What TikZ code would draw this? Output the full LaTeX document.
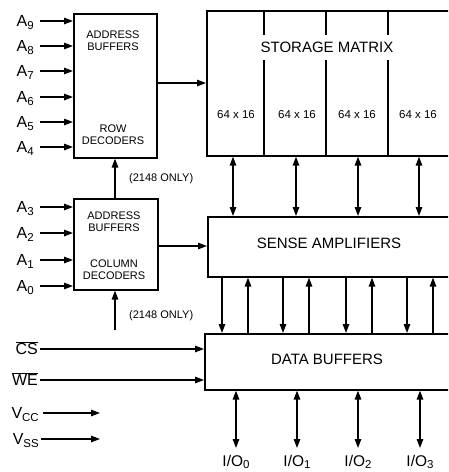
\documentclass[tikz,border=0pt]{standalone}
\usepackage{fontspec}
\setmainfont{Liberation Sans}
\usetikzlibrary{arrows.meta}
\newcommand{\sbs}[1]{\raisebox{-0.4ex}{\fontsize{11.5}{11.5}\selectfont #1}}
\newcommand{\iosb}[1]{\raisebox{-0.3ex}{\fontsize{11.5}{11.5}\selectfont #1}}
\tikzset{
  blk/.style={draw, line width=1.6pt, inner sep=0pt, anchor=north west},
  arr/.style={line width=1.3pt, -{Triangle[length=9pt,width=6.5pt]}},
  darr/.style={line width=1.3pt, {Triangle[length=9pt,width=6.5pt]}-{Triangle[length=9pt,width=6.5pt]}},
  pin/.style={font=\fontsize{16}{16}\selectfont, inner sep=0pt, text height=11pt, text depth=0pt, anchor=east},
  iolbl/.style={font=\fontsize{15.5}{16}\selectfont, inner sep=0pt, text height=11pt, text depth=0pt, anchor=north},
  small/.style={font=\fontsize{11}{12}\selectfont, align=center, inner sep=0pt},
  big/.style={font=\fontsize{15}{16}\selectfont, inner sep=0pt},
  cell/.style={font=\fontsize{11.5}{12}\selectfont, inner sep=0pt},
}
\begin{document}
\begin{tikzpicture}[x=1pt,y=-1pt]
\useasboundingbox (0,0) rectangle (448,472);
\clip (0,0) rectangle (448,472);
% blocks
\node[blk, minimum width=83pt, minimum height=144pt] (rowdec) at (73,13) {};
\node[blk, minimum width=84pt, minimum height=91pt] (coldec) at (73,198) {};
\node[blk, minimum width=280pt, minimum height=145pt] (mat) at (206,10) {};
\node[blk, minimum width=280pt, minimum height=60pt] (sa) at (207,216) {};
\node[blk, minimum width=280pt, minimum height=56pt] (db) at (204,333) {};
% block texts
\node[small] (t1) at (113,41) {ADDRESS\\BUFFERS};
\node[small] (t2) at (113,135) {ROW\\DECODERS};
\node[small] (t3) at (114,222) {ADDRESS\\BUFFERS};
\node[small] (t4) at (114,270) {COLUMN\\DECODERS};
\node[big] (tm) at (327,47) {STORAGE MATRIX};
\node[big] (ts) at (329,243) {SENSE AMPLIFIERS};
\node[big] (td) at (327,359) {DATA BUFFERS};
\node[cell] (m1) at (236,115) {64 x 16};
\node[cell] (m2) at (297,115) {64 x 16};
\node[cell] (m3) at (357,115) {64 x 16};
\node[cell] (m4) at (418,115) {64 x 16};
% matrix dividers
\foreach \x in {264,326,388}{
  \draw[line width=1.6pt] (\x,10) -- (\x,35);
  \draw[line width=1.6pt] (\x,60) -- (\x,155);
}
% address inputs row
\foreach \n/\y in {9/21,8/46,7/71,6/97,5/122,4/147}{
  \node[pin] (a\n) at (34,\y) {A\sbs{\n}};
  \draw[arr] ([xshift=6pt]a\n.east) -- (a\n.east -| rowdec.west);
}
% address inputs column
\foreach \n/\y in {3/207,2/233,1/260,0/286}{
  \node[pin] (a\n) at (34,\y) {A\sbs{\n}};
  \draw[arr] ([xshift=6pt]a\n.east) -- (a\n.east -| coldec.west);
}
% decoders to arrays
\coordinate (r1) at (0,83);
\draw[arr] (r1 -| rowdec.east) -- (r1 -| mat.west);
\coordinate (r2) at (0,246);
\draw[arr] (r2 -| coldec.east) -- (r2 -| sa.west);
% 2148 only arrows
\coordinate (u1) at (115,0);
\draw[arr] (u1 |- coldec.north) -- (u1 |- rowdec.south);
\node[small, anchor=west] (o1) at (129,179) {(2148 ONLY)};
\coordinate (u2) at (115,330);
\draw[arr] (u2) -- (u2 |- coldec.south);
\node[small, anchor=west] (o2) at (129,316) {(2148 ONLY)};
% matrix <-> sense amps
\foreach \x in {233,296,358,419}{
  \coordinate (c\x) at (\x,0);
  \draw[darr] (c\x |- mat.south) -- (c\x |- sa.north);
}
% sense amps -> data buffers (down)
\foreach \x in {222,283,346,407}{
  \coordinate (d\x) at (\x,0);
  \draw[arr] (d\x |- sa.south) -- (d\x |- db.north);
}
% data buffers -> sense amps (up)
\foreach \x in {248,309,372,433}{
  \coordinate (e\x) at (\x,0);
  \draw[arr] (e\x |- db.north) -- (e\x |- sa.south);
}
% control inputs
\node[pin] (cs) at (38,349) {$\overline{\mbox{CS}}$};
\draw[arr] ([xshift=2pt]cs.east) -- (cs.east -| db.west);
\node[pin] (we) at (38,380) {$\overline{\mbox{WE}}$};
\draw[arr] ([xshift=2pt]we.east) -- (we.east -| db.west);
% power
\node[pin] (vcc) at (39,413) {V\sbs{CC}};
\coordinate (vccend) at (100,413);
\draw[arr] ([xshift=4pt]vcc.east) -- (vccend);
\node[pin] (vss) at (39,439) {V\sbs{SS}};
\coordinate (vssend) at (100,439);
\draw[arr] ([xshift=2pt]vss.east) -- (vssend);
% I/O
\foreach \n/\x in {0/236,1/297,2/358,3/420}{
  \node[iolbl] (io\n) at (\x,455) {I/O\iosb{\n}};
  \draw[darr] (io\n.north |- db.south) -- ([yshift=7pt]io\n.north);
}
\end{tikzpicture}
\end{document}
